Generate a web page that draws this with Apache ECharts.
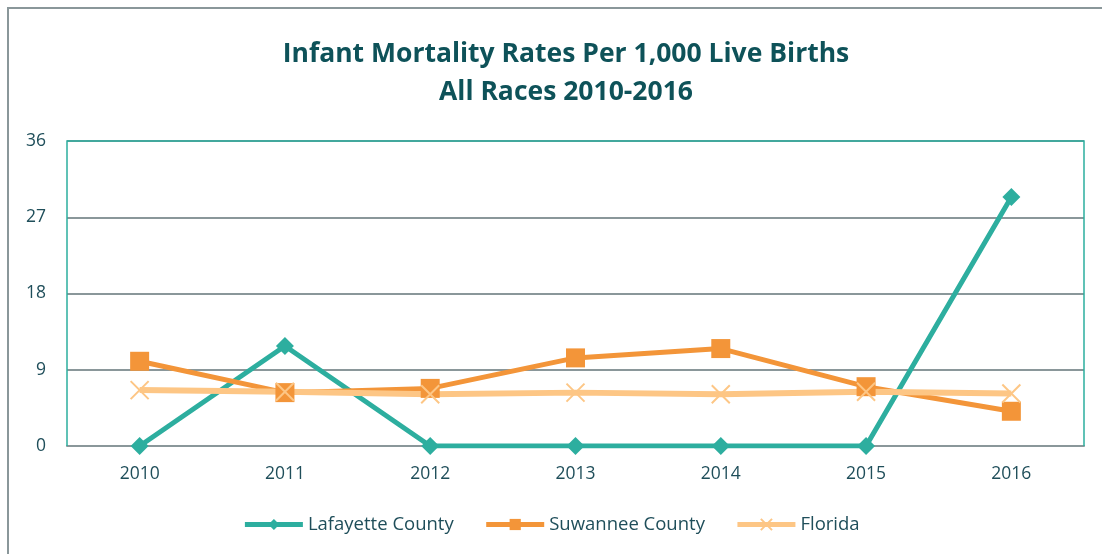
<!DOCTYPE html>
<html><head><meta charset="utf-8">
<script src="https://cdn.jsdelivr.net/npm/echarts@6/dist/echarts.min.js"></script>
<style>html,body{margin:0;padding:0;background:#fff}#c{width:1102px;height:554px}</style>
</head><body><div id="c"></div>
<script>
const years = ['2010','2011','2012','2013','2014','2015','2016'];
const lafayette = [0, 11.8, 0, 0, 0, 0, 29.4];
const suwannee = [10.0, 6.3, 6.8, 10.4, 11.5, 7.0, 4.1];
const florida = [6.6, 6.4, 6.1, 6.3, 6.1, 6.4, 6.2];
const yTicks = [0, 9, 18, 27, 36];

const xPath = 'path://M0,0 L10,10 M10,0 L0,10';
const chart = echarts.init(document.getElementById('c'));
const font = '"Open Sans", "Noto Sans", sans-serif';
chart.setOption({
  animation: false,
  title: {
    text: 'Infant Mortality Rates Per 1,000 Live Births\nAll Races 2010-2016',
    left: 561, top: 30, textAlign: 'center',
    textStyle: {color: '#0E5259', fontSize: 26.5, fontWeight: 'bold', fontFamily: font, lineHeight: 38}
  },
  graphic: [
    {type: 'polyline', shape: {points: [[8, 554], [8, 8], [1102, 8]]}, style: {stroke: '#8A979A', lineWidth: 2, fill: null}},
    {type: 'polyline', shape: {points: [[67, 446], [67, 141], [1084, 141], [1084, 446]]}, style: {stroke: '#2DAE9F', lineWidth: 1.5, fill: null}, z: 1}
  ],
  legend: {
    bottom: 15, left: 'center', itemWidth: 58, itemHeight: 14, itemGap: 30,
    textStyle: {color: '#1F4E5A', fontSize: 18.5, fontFamily: font},
    lineStyle: {width: 5},
    data: ['Lafayette County', 'Suwannee County', 'Florida']
  },
  grid: {left: 67, right: 18, top: 141, bottom: 108, containLabel: false},
  xAxis: {
    type: 'category', data: years, boundaryGap: true,
    axisLine: {lineStyle: {color: '#8A979A', width: 2}},
    axisTick: {show: false},
    axisLabel: {color: '#1F4E5A', fontSize: 17.5, fontFamily: font, margin: 19}
  },
  yAxis: {
    type: 'value', min: 0, max: 36, interval: 9,
    axisLine: {show: false}, axisTick: {show: false},
    axisLabel: {color: '#1F4E5A', fontSize: 17.5, fontFamily: font, margin: 21,
      formatter: v => yTicks.includes(v) ? String(v) : ''},
    splitLine: {lineStyle: {color: '#8A979A', width: 2}}
  },
  series: [
    {name: 'Lafayette County', type: 'line', data: lafayette, symbol: 'diamond', symbolSize: 18,
      color: '#2DAE9F', lineStyle: {width: 5, color: '#2DAE9F'}, itemStyle: {color: '#2DAE9F'}},
    {name: 'Suwannee County', type: 'line', data: suwannee, symbol: 'rect', symbolSize: 19,
      color: '#F39539', lineStyle: {width: 5, color: '#F39539'}, itemStyle: {color: '#F39539'}},
    {name: 'Florida', type: 'line', data: florida, symbol: xPath, symbolSize: 18,
      color: '#FDC685', lineStyle: {width: 6, color: '#FDC685'},
      itemStyle: {color: 'none', borderColor: '#FDC685', borderWidth: 2}}
  ]
});
</script></body></html>
